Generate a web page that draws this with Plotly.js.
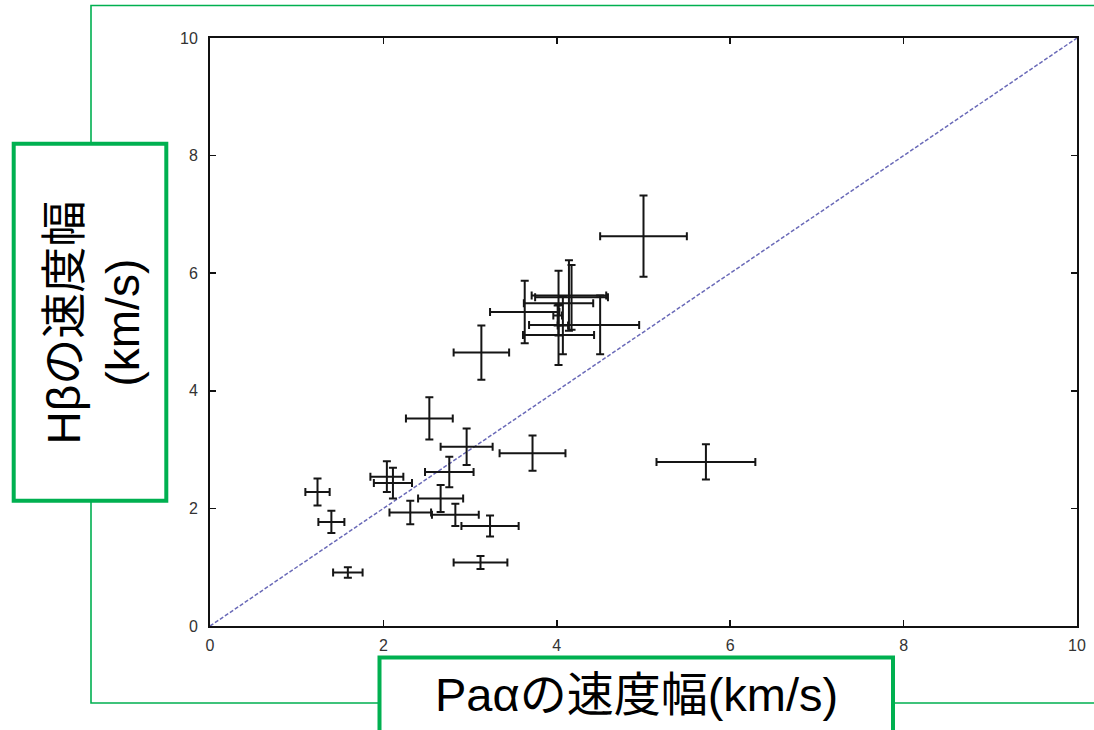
<!DOCTYPE html>
<html>
<head>
<meta charset="utf-8">
<script src="https://cdn.plot.ly/plotly-3.0.1.min.js"></script>
<style>
  html, body { margin: 0; padding: 0; background: #ffffff; }
  #chart { width: 1094px; height: 730px; }
</style>
</head>
<body>
<div id="chart"></div>
<script>
// Line widths (km/s) of each object: Paα on x, Hβ on y, with their uncertainties
const paAlpha      = [1.24, 1.40, 1.59, 2.04, 2.11, 2.31, 2.53, 2.66, 2.76, 2.83, 2.96, 3.12, 3.13, 3.23, 3.63, 3.72, 4.02, 4.02, 4.01, 4.07, 4.14, 4.17, 4.50, 5.00, 5.72];
const hBeta        = [2.28, 1.77, 0.91, 2.54, 2.43, 1.93, 3.53, 2.17, 2.62, 1.89, 3.05, 1.08, 4.65, 1.70, 5.34, 2.94, 5.49, 4.95, 5.28, 5.11, 5.62, 5.59, 5.12, 6.63, 2.79];
const paErrPlus    = [0.14, 0.15, 0.17, 0.19, 0.22, 0.24, 0.27, 0.26, 0.28, 0.27, 0.30, 0.31, 0.32, 0.33, 0.40, 0.38, 0.40, 0.41, 0.05, 0.06, 0.43, 0.42, 0.45, 0.50, 0.57];
const paErrMinus   = [0.14, 0.15, 0.17, 0.19, 0.22, 0.24, 0.27, 0.26, 0.28, 0.27, 0.30, 0.31, 0.32, 0.33, 0.40, 0.38, 0.40, 0.41, 0.05, 0.06, 0.43, 0.42, 0.82, 0.50, 0.57];
const hBetaErr     = [0.23, 0.19, 0.09, 0.26, 0.26, 0.20, 0.36, 0.23, 0.26, 0.19, 0.31, 0.11, 0.46, 0.18, 0.53, 0.30, 0.55, 0.51, 0.17, 0.49, 0.60, 0.55, 0.50, 0.69, 0.30];

// y = x reference line across the full range
const equalityLine = [0, 10];

// Axis ticks
const tickValues = [0, 2, 4, 6, 8, 10];
const tickLabels = ['0', '2', '4', '6', '8', '10'];

// Axis captions
const xCaption = 'Paαの速度幅(km/s)';
const yCaption = 'Hβの速度幅<br>(km/s)';

const W = 1094, H = 730;
const M = { l: 210, r: 17, t: 38, b: 104 };
const plotW = W - M.l - M.r, plotH = H - M.t - M.b;
// pixel -> paper coordinates
const px = v => (v - M.l) / plotW;
const py = v => (H - M.b - v) / plotH;

const green = '#00b050';
const barStyle = { color: '#151515', thickness: 2, width: 4 };

const traces = [
  {
    x: equalityLine, y: equalityLine,
    mode: 'lines', hoverinfo: 'skip',
    line: { color: '#6a6ab8', width: 1.5, dash: '4px,2px' }
  },
  {
    x: paAlpha, y: hBeta,
    mode: 'markers',
    marker: { size: 2, color: 'rgba(0,0,0,0)' },
    error_x: Object.assign({ type: 'data', symmetric: false, array: paErrPlus, arrayminus: paErrMinus }, barStyle),
    error_y: Object.assign({ type: 'data', array: hBetaErr }, barStyle)
  }
];

const axisCommon = {
  range: [0, 10],
  tickmode: 'array', tickvals: tickValues, ticktext: tickLabels,
  ticks: 'inside', ticklen: 6, tickwidth: 1.5, tickcolor: '#111',
  showline: true, linecolor: '#111', linewidth: 2, mirror: 'ticks',
  showgrid: false, zeroline: false,
  tickfont: { family: 'Liberation Sans, Arial, sans-serif', size: 16, color: '#333333' }
};

const layout = {
  width: W, height: H,
  margin: M,
  paper_bgcolor: '#ffffff', plot_bgcolor: '#ffffff',
  showlegend: false,
  xaxis: Object.assign({}, axisCommon, { ticklabelstandoff: 4 }),
  yaxis: Object.assign({}, axisCommon, { ticklabelstandoff: 7 }),
  shapes: [
    // thin outer frame
    { type: 'rect', xref: 'paper', yref: 'paper', layer: 'below',
      x0: px(91), x1: px(1110), y0: py(703), y1: py(5.5),
      line: { color: green, width: 1.6 }, fillcolor: 'rgba(0,0,0,0)' },
    // caption boxes
    { type: 'rect', xref: 'paper', yref: 'paper',
      x0: px(13.7), x1: px(166.3), y0: py(500.7), y1: py(143.7),
      line: { color: green, width: 4 }, fillcolor: '#ffffff' },
    { type: 'rect', xref: 'paper', yref: 'paper',
      x0: px(379.5), x1: px(893), y0: py(745), y1: py(657.5),
      line: { color: green, width: 4 }, fillcolor: '#ffffff' }
  ],
  annotations: [
    { xref: 'paper', yref: 'paper', x: px(93), y: py(322.5),
      xanchor: 'center', yanchor: 'middle', textangle: -90, showarrow: false,
      text: yCaption,
      font: { family: 'Liberation Sans, Noto Sans CJK JP, sans-serif', size: 46, color: '#000' } },
    { xref: 'paper', yref: 'paper', x: px(636), y: py(694),
      xanchor: 'center', yanchor: 'middle', showarrow: false,
      text: xCaption,
      font: { family: 'Liberation Sans, Noto Sans CJK JP, sans-serif', size: 47, color: '#000' } }
  ]
};

Plotly.newPlot('chart', traces, layout, { displayModeBar: false, staticPlot: true });
</script>
</body>
</html>
